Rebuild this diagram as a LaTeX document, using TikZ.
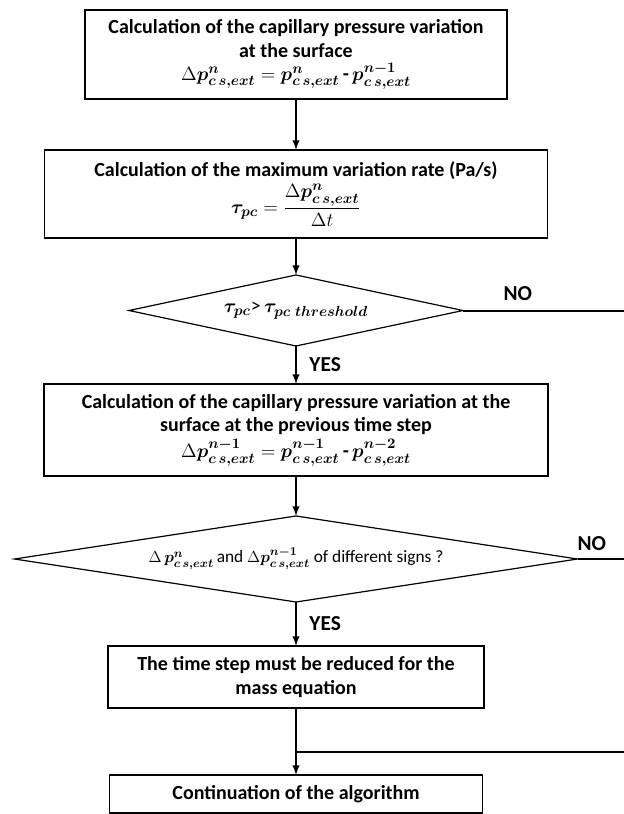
\documentclass[tikz,border=0pt]{standalone}
\usepackage{amsmath}
\usepackage{bm}
\usepackage{fontspec}
\setmainfont{Carlito}
\usetikzlibrary{positioning}
\usetikzlibrary{arrows}
\usetikzlibrary{shapes.geometric}

\newcommand{\pcse}[1]{\bm{p^{#1}_{c\,s,ext}}}

\begin{document}
\begin{tikzpicture}[x=0.75pt, y=-0.75pt,
procbox/.style={rectangle, draw=black, line width=0.9pt, fill=white, align=center, inner sep=1pt, outer sep=0pt, font=\fontsize{15}{17.5}\selectfont\bfseries},
decision/.style={diamond, draw=black, line width=0.9pt, fill=white, align=center, inner sep=0pt, outer sep=0pt},
flowline/.style={->, >=latex, line width=1.5pt},
answer/.style={font=\fontsize{16}{18}\selectfont\bfseries},
]
\useasboundingbox (0,0) rectangle (624,814);

%Nodes
\node[procbox, minimum width=316.5pt, minimum height=66.75pt] (surf) at (296,54.5)
  {Calculation of the capillary pressure variation\\ at the surface\\
   $\Delta\pcse{n} = \pcse{n}$\,-\,$\pcse{n-1}$};
\node[procbox, minimum width=377.25pt, minimum height=66pt] (rate) [below=38.25pt of surf]
  {Calculation of the maximum variation rate (Pa/s)\\[3pt]
   $\bm{\tau_{pc}} = \dfrac{\Delta\pcse{n}}{\Delta t}$};
\node[decision, aspect=4.7, minimum width=250.5pt, minimum height=53.25pt,
      font=\fontsize{15}{18}\selectfont] (test1) [below=27.75pt of rate]
  {$\bm{\tau_{pc}}$>\,$\bm{\tau_{pc\;threshold}}$};
\node[procbox, minimum width=378pt, minimum height=69pt] (prev) [below=28.5pt of test1]
  {Calculation of the capillary pressure variation at the\\ surface at the previous time step\\[2pt]
   $\Delta\pcse{n-1} = \pcse{n-1}$\,-\,$\pcse{n-2}$};
\node[decision, aspect=6.5, minimum width=422.25pt, minimum height=64.5pt,
      font=\fontsize{13}{15}\selectfont] (test2) [below=30pt of prev]
  {$\Delta\,\pcse{n}$\,and $\Delta\pcse{n-1}$ of different signs ?};
\node[procbox, minimum width=282pt, minimum height=46.5pt] (reduce) [below=33pt of test2]
  {The time step must be reduced for the\\ mass equation};
\node[procbox, minimum width=279.75pt, minimum height=28.5pt] (cont) [below=50.25pt of reduce]
  {Continuation of the algorithm};

\coordinate (edge) at (624,0);
\coordinate (no1) at (test1.east -| edge);
\coordinate (no2) at (test2.east -| edge);
\coordinate (back) at (624,752);
\coordinate (merge) at (cont.north |- back);

%Lines
\draw[flowline] (surf.south) -- (rate.north);
\draw[flowline] (rate.south) -- (test1.north);
\draw[line width=1.5pt] (test1.east) -- (no1) node[answer, pos=0.34, above=3pt] {NO};
\draw[flowline] (test1.south) -- (prev.north) node[answer, midway, right, xshift=6pt] {YES};
\draw[flowline] (prev.south) -- (test2.north);
\draw[line width=1.5pt] (test2.east) -- (no2) node[answer, pos=0.31, above=2pt] {NO};
\draw[flowline] (test2.south) -- (reduce.north) node[answer, midway, right, xshift=6pt] {YES};
\draw[flowline] (reduce.south) -- (cont.north);
\draw[line width=1.5pt] (back) -- (merge);
\end{tikzpicture}
\end{document}
